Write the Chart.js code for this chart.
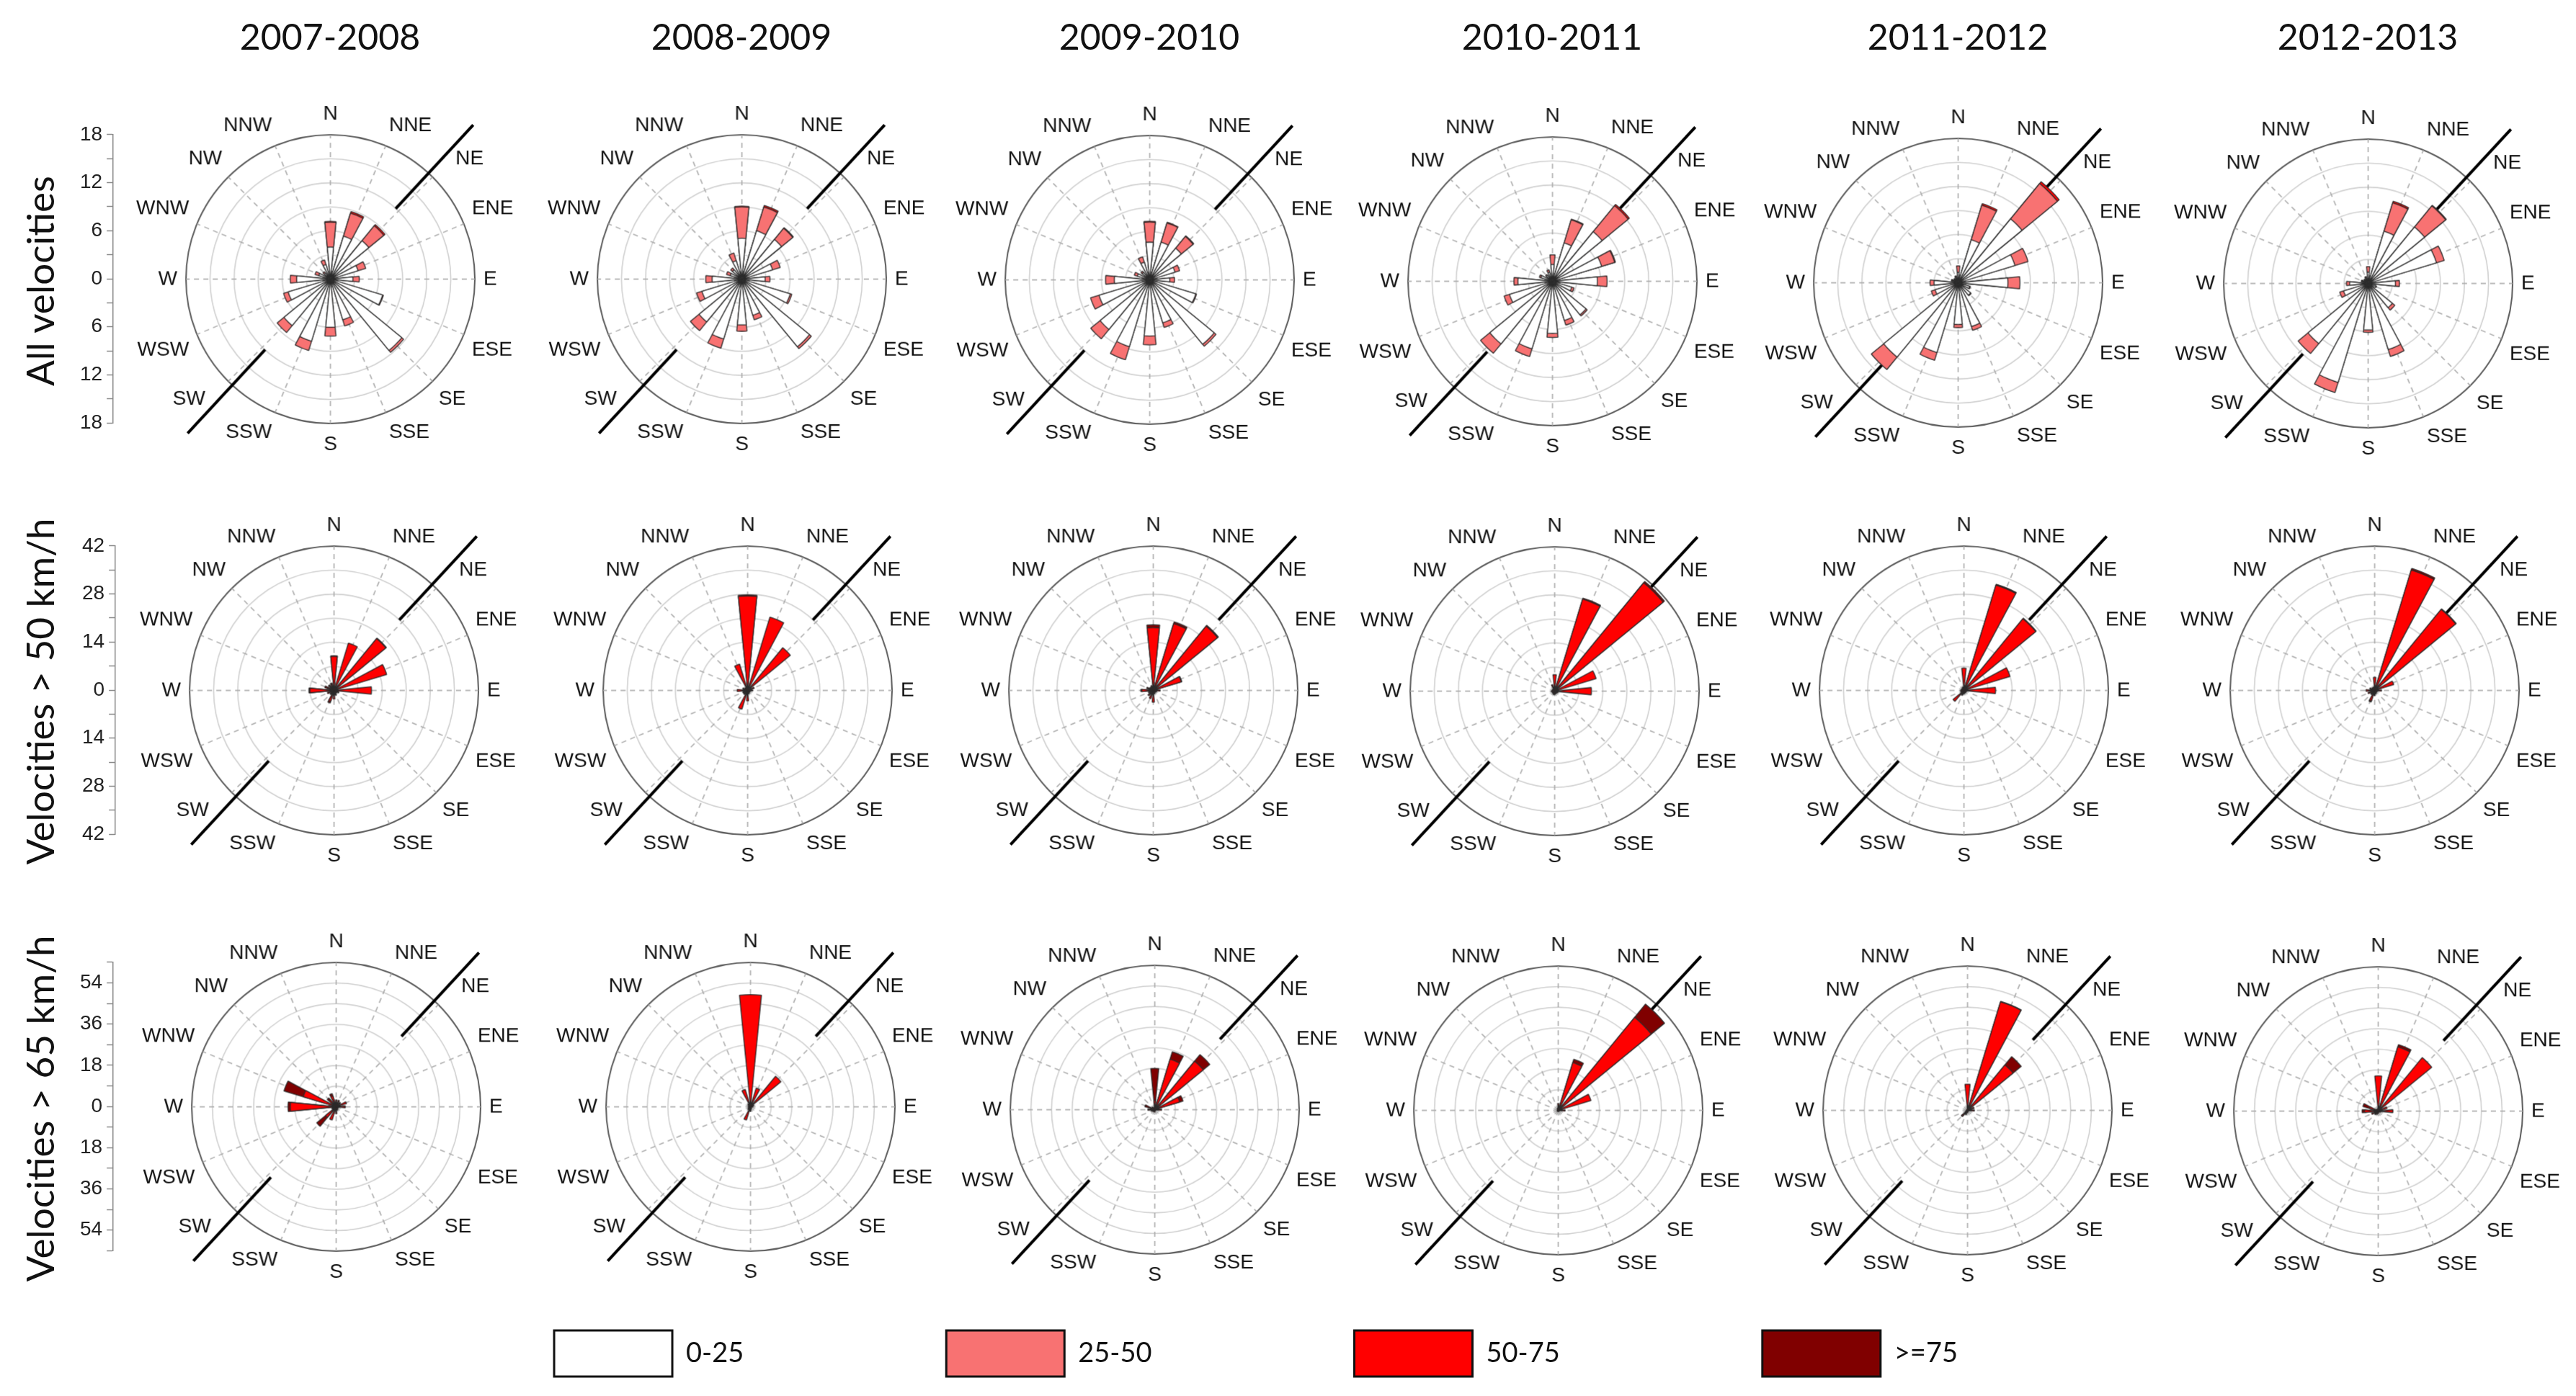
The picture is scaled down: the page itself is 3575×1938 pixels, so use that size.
<!DOCTYPE html>
<html>
<head>
<meta charset="utf-8">
<script src="https://cdn.jsdelivr.net/npm/chart.js@4/dist/chart.umd.min.js"></script>
<style>
  html, body { margin: 0; padding: 0; background: #fff; }
  #page { position: relative; width: 3575px; height: 1938px; overflow: hidden; background: #fff; }
  .holder { position: absolute; }
  .coltitle { position: absolute; font-family: Lato, 'Open Sans', sans-serif; font-size: 50px; color: #111;
              transform: translate(-50%, -50%); white-space: nowrap; line-height: 1; }
  .rowtitle { position: absolute; font-family: Lato, 'Open Sans', sans-serif; font-size: 53px; color: #111;
              transform: translate(-50%, -50%) rotate(-90deg); white-space: nowrap; line-height: 1; }
</style>
</head>
<body>
<div id="page"></div>
<script>
// ---------------- data ----------------
const DIRECTIONS = ['N','NNE','NE','ENE','E','ESE','SE','SSE','S','SSW','SW','WSW','W','WNW','NW','NNW'];
const PERIODS = ['2007-2008','2008-2009','2009-2010','2010-2011','2011-2012','2012-2013'];
const ROW_TITLES = ['All velocities','Velocities > 50 km/h','Velocities > 65 km/h'];
const SPEED_CLASSES = ['0-25','25-50','50-75','>=75'];
const RADIAL_MAX = [18, 42, 63];
const RING_STEP = [3, 7, 9];
const AXIS_LABEL_STEP = [6, 14, 18];

// Row 1: all velocities (frequency %, per direction N..NNW), one list per period
const all_0_25 = [
  [4.0,5.6,6.2,3.6,2.8,6.8,11.5,5.3,6.0,8.1,7.5,5.5,4.2,1.5,1.0,1.9],
  [5.1,6.3,6.4,4.0,2.9,6.3,10.9,4.7,5.7,7.8,6.9,5.2,3.7,1.5,1.5,2.4],
  [4.7,4.9,5.1,3.3,2.5,6.0,10.4,5.6,7.0,8.7,8.0,6.6,4.4,1.6,1.2,2.3],
  [2.1,5.0,8.0,6.4,5.6,2.5,5.4,5.1,6.5,8.8,10.1,5.6,4.3,1.5,1.0,1.2],
  [1.3,5.6,10.3,7.4,6.2,1.5,2.0,5.7,5.2,9.1,12.0,3.0,3.0,0.8,0.6,0.8],
  [1.4,6.8,9.1,8.9,3.4,1.0,3.9,8.6,5.8,12.9,9.7,3.2,2.3,0.8,0.6,0.8]
];
const all_25_50 = [
  [3.1,3.0,2.4,1.0,0.8,0.1,0.3,0.8,1.1,1.2,1.1,0.6,0.8,0.5,0.2,0.6],
  [3.9,3.1,1.8,1.0,0.6,0.2,0.3,0.6,0.8,1.2,1.4,0.7,0.8,0.5,0.3,1.0],
  [2.5,2.5,1.9,0.6,0.6,0.1,0.3,0.6,1.1,1.7,1.5,1.1,1.1,0.4,0.2,0.7],
  [1.2,3.0,4.2,1.7,1.2,0.3,0.2,0.6,0.5,1.0,1.5,0.7,0.5,0.2,0.1,0.3],
  [0.8,4.5,5.7,1.7,1.5,0.1,0.1,0.5,0.4,1.0,2.0,0.5,0.5,0.1,0.1,0.1],
  [0.7,3.7,3.4,1.0,0.5,0.1,0.4,0.9,0.3,1.3,1.6,0.5,0.4,0.1,0.1,0.1]
];
const all_50_75 = [
  [0.1,0.2,0.2,0,0,0,0,0,0,0,0,0,0,0,0,0],
  [0.1,0.2,0.1,0,0,0,0,0,0,0,0,0,0,0,0,0],
  [0.1,0.1,0.1,0,0,0,0,0,0,0,0,0,0,0,0,0],
  [0,0.1,0.2,0.1,0,0,0,0,0,0,0,0,0,0,0,0],
  [0,0.2,0.3,0,0,0,0,0,0,0,0,0,0,0,0,0],
  [0,0.2,0.1,0,0,0,0,0,0,0,0,0,0,0,0,0]
];

// Row 2: velocities > 50 km/h
const v50_50_75 = [
  [9.9,14.4,19.5,16.0,10.9,1.5,1.0,1.5,2.5,3.3,1.5,2.0,7.0,2.0,1.5,2.0],
  [27.5,22.3,16.1,2.0,1.5,0.8,0.8,1.0,3.0,5.7,1.5,1.5,3.0,1.5,1.0,8.0],
  [18.3,20.3,24.2,8.5,2.0,1.0,0.8,1.0,3.4,2.5,2.0,1.5,3.3,1.5,1.2,1.5],
  [4.8,28.0,40.8,12.6,10.7,1.0,0.8,0.8,1.0,1.0,0.8,0.8,1.0,0.8,0.8,2.0],
  [6.5,32.0,27.0,14.0,9.2,0.8,0.8,0.8,1.0,1.5,4.1,1.0,1.0,0.8,0.8,1.0],
  [3.8,36.6,30.5,5.8,2.0,0.8,0.8,1.0,1.5,3.2,1.5,2.0,2.5,1.5,1.0,1.0]
];
const v50_ge75 = [
  [0.2,0,0.2,0,0,0,0,0,0,0.5,0,0,0.3,0.8,0.6,0.3],
  [0.3,0,0,0,0,0,0,0,0,0,0,0,0,0,0,0],
  [0.8,0.5,0.3,0.2,0,0,0,0,0,0,0,0,0.3,0.5,0,0],
  [0,0.3,0.5,0,0,0,0,0,0,0,0,0,0,0,0,0],
  [0,0.3,0.2,0,0,0,0,0,0,0,0,0,0,0,0,0],
  [0,0.5,0.2,0,0,0,0,0,0,0.3,0,0,0,0,0,0]
];

// Row 3: velocities > 65 km/h
const v65_50_75 = [
  [3.0,3.0,2.5,4.7,4.0,1.0,1.0,1.5,3.0,6.0,6.0,2.0,20.0,15.0,4.0,5.0],
  [48.9,8.5,17.2,1.5,1.0,0.5,0.5,1.0,2.0,6.0,1.5,1.0,1.0,1.0,1.5,7.9],
  [4.0,23.0,27.4,11.4,3.0,0.5,0.5,0.5,1.0,1.0,1.0,1.5,2.0,2.0,1.0,1.0],
  [3.0,21.8,52.5,14.9,3.0,0.5,0.5,0.5,0.5,0.5,0.5,0.5,0.5,0.5,0.5,1.0],
  [11.4,49.5,25.7,3.0,3.0,0.5,0.5,0.5,1.0,2.0,3.0,1.0,0.5,0.5,0.5,0.5],
  [15.4,29.3,30.2,4.0,6.4,1.0,0.5,0.5,1.0,1.5,2.0,3.0,6.0,4.0,1.0,1.0]
];
const v65_ge75 = [
  [0,0,0,0,0,0,0,0,0,0,5.0,0,1.0,8.8,1.0,1.0],
  [0,0,0,0,0,0,0,0,0,0,0,0,0,0,0,0],
  [14.0,3.4,3.7,1.5,0,0,0,0,0,0,0,0,1.0,2.5,0.5,0],
  [0,1.5,7.5,0,0,0,0,0,0,0,0,0,0,0,0,0],
  [0,0.2,4.6,0,0,0,0,0,0,0,0.5,0,0,0,0,0],
  [0,1.0,0,0,0,0,0,0,0,0,0,0,1.0,3.0,0,0]
];

// which speed-class lists belong to each row (null = class not present in that row)
const ROW_CLASSES = [
  [all_0_25, all_25_50, all_50_75, null],
  [null, null, v50_50_75, v50_ge75],
  [null, null, v65_50_75, v65_ge75]
];

// orientation line (valley axis): bearing in degrees, span as fraction of the radial max
const ORIENTATION_BEARING = 42.8;
const ORIENTATION_SPAN = [0.665, 1.455];

// ---------------- styling / layout ----------------
const CLASS_COLORS = ['#ffffff', '#f87272', '#ff0000', '#800000'];
const TARGET_RADIUS = 200;
const CENTER_X = [[458,1029,1595,2154,2717,3286],[463,1037,1600,2157,2725,3295],[466,1041,1602,2162,2730,3300]];
const CENTER_Y = [[387,387,388,390,392,393],[958,958,958,959,958,958],[1536,1536,1540,1541,1541,1542]];
const AXIS_X = [157, 160, 157];
const ROW_TITLE_POS = [[54, 390], [54, 960], [54, 1539]];
const COL_TITLE_Y = 50;
const SECTOR = 22.5;
const BAR_WIDTH = 11.25;
const LABEL_FONT = { family: "'Liberation Sans', Arial, sans-serif", size: 28 };

Chart.defaults.font.family = "'Liberation Sans', Arial, sans-serif";

const page = document.getElementById('page');

// element layout for the polar area: gap, NNE bar, gap, NE bar, ..., NNW bar, gap, N bar, gap
const ELEMENTS = (() => {
  const els = [{ dir: -1, angle: SECTOR / 2 - BAR_WIDTH / 2 }];
  for (let j = 1; j < 16; j++) {
    els.push({ dir: j, angle: BAR_WIDTH });
    els.push({ dir: -1, angle: SECTOR - BAR_WIDTH });
  }
  els.push({ dir: 0, angle: BAR_WIDTH });
  els.push({ dir: -1, angle: SECTOR / 2 - BAR_WIDTH / 2 });
  return els;
})();
// 32 angular slots of 11.25 deg starting at 11.25 deg: compass names on every other slot
const SLOT_LABELS = Array.from({ length: 32 }, (_, k) => (k % 2 === 1 ? DIRECTIONS[((k + 1) / 2) % 16] : ''));

const orientationLine = {
  id: 'orientationLine',
  beforeDatasetsDraw(chart, args, opts) {
    const s = chart.scales.r;
    const ctx = chart.ctx;
    const a = opts.bearing * Math.PI / 180;
    const d1 = s.getDistanceFromCenterForValue(opts.span[0] * s.max);
    const d2 = s.getDistanceFromCenterForValue(opts.span[1] * s.max);
    ctx.save();
    ctx.strokeStyle = '#000';
    ctx.lineWidth = 4;
    for (const sign of [1, -1]) {
      ctx.beginPath();
      ctx.moveTo(s.xCenter + sign * d1 * Math.sin(a), s.yCenter - sign * d1 * Math.cos(a));
      ctx.lineTo(s.xCenter + sign * d2 * Math.sin(a), s.yCenter - sign * d2 * Math.cos(a));
      ctx.stroke();
    }
    ctx.restore();
  }
};

function panelConfig(row, col) {
  const max = RADIAL_MAX[row];
  const cum = new Array(16).fill(0);
  const datasets = [];
  ROW_CLASSES[row].forEach((cls, ci) => {
    if (!cls) return;
    const own = cls[col];
    const top = own.map((v, d) => (cum[d] += v));
    datasets.push({
      label: SPEED_CLASSES[ci],
      data: ELEMENTS.map(e => (e.dir < 0 ? 0 : top[e.dir])),
      backgroundColor: CLASS_COLORS[ci],
      borderColor: '#2a2a2a',
      borderWidth: (ctx) => {
        const e = ELEMENTS[ctx.dataIndex];
        return (e && e.dir >= 0 && own[e.dir] > 0) ? 1.3 : 0;
      },
      angle: (ctx) => ELEMENTS[ctx.dataIndex].angle
    });
  });
  return {
    type: 'polarArea',
    data: { labels: SLOT_LABELS, datasets },
    options: {
      responsive: false,
      animation: false,
      devicePixelRatio: 1,
      events: [],
      layout: { padding: 0 },
      plugins: {
        legend: { display: false },
        tooltip: { enabled: false },
        orientationLine: { bearing: ORIENTATION_BEARING, span: ORIENTATION_SPAN }
      },
      scales: {
        r: {
          min: 0,
          max: max,
          startAngle: SECTOR / 2,
          ticks: { display: false, stepSize: RING_STEP[row] },
          grid: {
            circular: true,
            color: (c) => (c.tick && c.tick.value >= max ? '#5c5c5c' : '#d0d0d0'),
            lineWidth: (c) => (c.tick && c.tick.value >= max ? 2 : 1.6)
          },
          angleLines: {
            display: true,
            color: '#a8a8a8',
            lineWidth: (c) => (c.label ? 1.5 : 0),
            borderDash: [7, 6]
          },
          pointLabels: {
            display: true,
            padding: 12,
            color: '#111',
            font: LABEL_FONT,
            callback: (l) => (l === 'NE' ? '   NE' : (l === 'SW' ? 'SW   ' : l))
          }
        }
      }
    },
    plugins: [orientationLine]
  };
}

function makeHolder() {
  const holder = document.createElement('div');
  holder.className = 'holder';
  page.appendChild(holder);
  const canvas = document.createElement('canvas');
  holder.appendChild(canvas);
  return { holder, canvas };
}

function sizeCanvas(canvas, w, h) {
  canvas.width = w; canvas.height = h;
  canvas.style.width = w + 'px'; canvas.style.height = h + 'px';
}

function buildPanel(row, col) {
  const { holder, canvas } = makeHolder();
  let size = 620, chart = null;
  for (let iter = 0; iter < 4; iter++) {
    sizeCanvas(canvas, size, size);
    chart = new Chart(canvas, panelConfig(row, col));
    const diff = TARGET_RADIUS - chart.scales.r.drawingArea;
    if (diff === 0 || iter === 3) break;
    chart.destroy();
    size += 2 * diff;
  }
  const r = chart.scales.r;
  holder.style.left = (CENTER_X[row][col] - r.xCenter) + 'px';
  holder.style.top = (CENTER_Y[row][col] - r.yCenter) + 'px';
}

function axisConfig(row) {
  const max = RADIAL_MAX[row];
  const lstep = AXIS_LABEL_STEP[row];
  return {
    type: 'line',
    data: { labels: [], datasets: [] },
    options: {
      responsive: false, animation: false, devicePixelRatio: 1, events: [],
      layout: { padding: 0 },
      plugins: { legend: { display: false }, tooltip: { enabled: false } },
      scales: {
        x: { display: false },
        y: {
          position: 'left', min: -max, max: max,
          ticks: {
            stepSize: RING_STEP[row], autoSkip: false, padding: 6,
            color: '#222', font: LABEL_FONT,
            callback: (v) => (Math.round(v) % lstep === 0 ? String(Math.abs(Math.round(v))) : '')
          },
          grid: { drawOnChartArea: false, drawTicks: true, tickLength: 9, tickColor: '#8a8a8a', tickWidth: 1.5 },
          border: { display: true, color: '#8a8a8a', width: 1.5 }
        }
      }
    }
  };
}

function buildAxis(row) {
  const { holder, canvas } = makeHolder();
  const max = RADIAL_MAX[row];
  let h = 2 * TARGET_RADIUS + 40, chart = null;
  for (let iter = 0; iter < 4; iter++) {
    sizeCanvas(canvas, 140, h);
    chart = new Chart(canvas, axisConfig(row));
    const y = chart.scales.y;
    const span = y.getPixelForValue(-max) - y.getPixelForValue(max);
    const diff = Math.round(2 * TARGET_RADIUS - span);
    if (diff === 0 || iter === 3) break;
    chart.destroy();
    h += diff;
  }
  const y = chart.scales.y;
  holder.style.left = (AXIS_X[row] - y.right) + 'px';
  holder.style.top = (CENTER_Y[row][0] - TARGET_RADIUS - y.getPixelForValue(max)) + 'px';
}

function buildLegend() {
  const { holder, canvas } = makeHolder();
  sizeCanvas(canvas, 2600, 780);
  const chart = new Chart(canvas, {
    type: 'bar',
    data: {
      labels: [],
      datasets: SPEED_CLASSES.map((c, i) => ({
        label: c, data: [], backgroundColor: CLASS_COLORS[i], borderColor: '#111', borderWidth: 3
      }))
    },
    options: {
      responsive: false, animation: false, devicePixelRatio: 1, events: [],
      scales: { x: { display: false }, y: { display: false } },
      plugins: {
        tooltip: { enabled: false },
        legend: {
          display: true, position: 'top',
          labels: { boxWidth: 164, boxHeight: 64, padding: 281, color: '#111',
                    font: { family: "Lato, 'Open Sans', sans-serif", size: 38 } }
        }
      }
    }
  });
  const hb = chart.legend.legendHitBoxes[0];
  holder.style.left = (769 - hb.left) + 'px';
  holder.style.top = (1847 - hb.top) + 'px';
}

function addText(cls, text, x, y) {
  const d = document.createElement('div');
  d.className = cls;
  d.textContent = text;
  d.style.left = x + 'px';
  d.style.top = y + 'px';
  page.appendChild(d);
}

PERIODS.forEach((p, c) => addText('coltitle', p, CENTER_X[0][c], COL_TITLE_Y));
ROW_TITLES.forEach((t, r) => addText('rowtitle', t, ROW_TITLE_POS[r][0], ROW_TITLE_POS[r][1]));
for (let r = 0; r < 3; r++) {
  buildAxis(r);
  for (let c = 0; c < 6; c++) buildPanel(r, c);
}
buildLegend();
</script>
</body>
</html>
